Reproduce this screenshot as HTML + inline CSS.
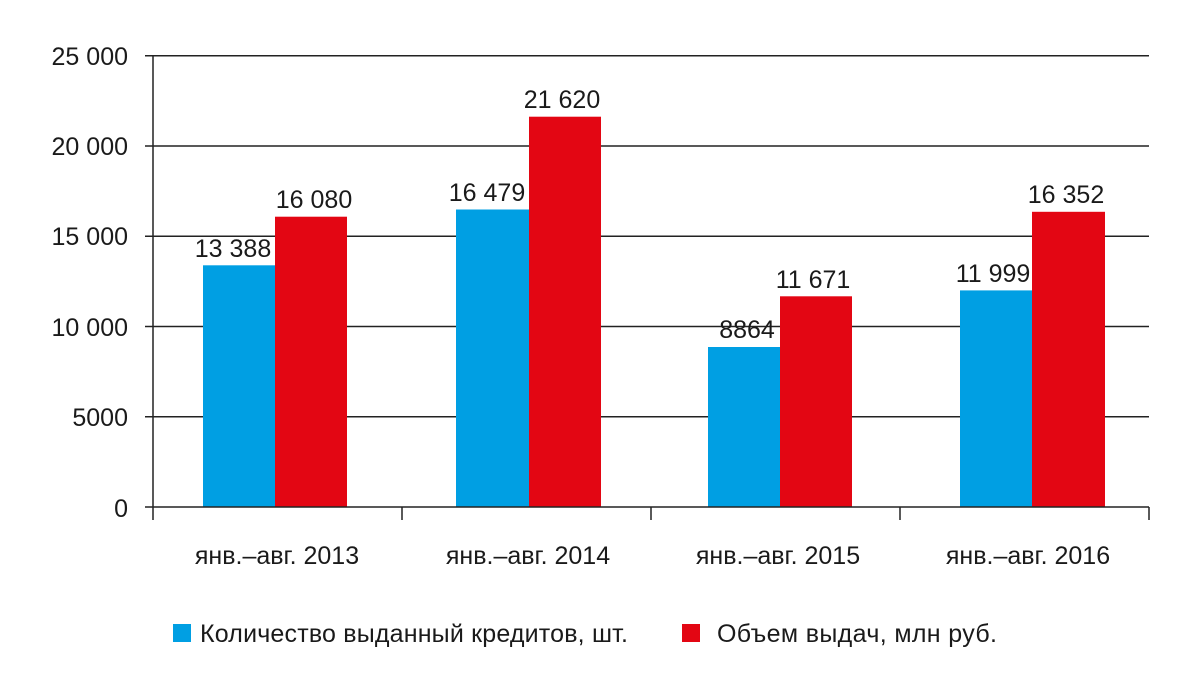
<!DOCTYPE html>
<html><head><meta charset="utf-8"><style>body{margin:0;background:#fff}</style></head><body>
<svg width="1200" height="695" viewBox="0 0 1200 695" xmlns="http://www.w3.org/2000/svg" font-family="Liberation Sans, DejaVu Sans, sans-serif" fill="#1a1a1a">
<g stroke="#222" stroke-width="1.5">
<line x1="145" y1="55.7" x2="1149" y2="55.7"/>
<line x1="145" y1="146" x2="1149" y2="146"/>
<line x1="145" y1="236.3" x2="1149" y2="236.3"/>
<line x1="145" y1="326.5" x2="1149" y2="326.5"/>
<line x1="145" y1="416.8" x2="1149" y2="416.8"/>
</g>
<g>
<rect x="203" y="265.3" width="72" height="241.7" fill="#009fe3"/>
<rect x="275" y="216.7" width="72" height="290.3" fill="#e30613"/>
<rect x="456" y="209.5" width="73" height="297.5" fill="#009fe3"/>
<rect x="529" y="116.7" width="72" height="390.3" fill="#e30613"/>
<rect x="708" y="347" width="72" height="160" fill="#009fe3"/>
<rect x="780" y="296.3" width="72" height="210.7" fill="#e30613"/>
<rect x="960" y="290.4" width="72" height="216.6" fill="#009fe3"/>
<rect x="1032" y="211.8" width="73" height="295.2" fill="#e30613"/>
</g>
<g stroke="#222" stroke-width="1.5">
<line x1="153" y1="55" x2="153" y2="520"/>
<line x1="145" y1="507" x2="1149" y2="507"/>
<line x1="402" y1="507" x2="402" y2="520"/>
<line x1="651" y1="507" x2="651" y2="520"/>
<line x1="900" y1="507" x2="900" y2="520"/>
<line x1="1149" y1="507" x2="1149" y2="520"/>
</g>
<g font-size="25" text-anchor="end">
<text x="128" y="65">25 000</text>
<text x="128" y="155">20 000</text>
<text x="128" y="245">15 000</text>
<text x="128" y="336">10 000</text>
<text x="128" y="426">5000</text>
<text x="128" y="517">0</text>
</g>
<g font-size="25" text-anchor="middle">
<text x="233" y="257">13 388</text>
<text x="314" y="208">16 080</text>
<text x="487" y="201">16 479</text>
<text x="562" y="108">21 620</text>
<text x="747" y="338">8864</text>
<text x="813" y="288">11 671</text>
<text x="993" y="282">11 999</text>
<text x="1066" y="203">16 352</text>
</g>
<g font-size="25" text-anchor="middle">
<text x="277" y="564">янв.–авг. 2013</text>
<text x="528" y="564">янв.–авг. 2014</text>
<text x="778" y="564">янв.–авг. 2015</text>
<text x="1028" y="564">янв.–авг. 2016</text>
</g>
<rect x="173" y="624" width="18" height="18" fill="#009fe3"/>
<text x="200" y="642" font-size="25" textLength="428">Количество выданный кредитов, шт.</text>
<rect x="682" y="624" width="18" height="18" fill="#e30613"/>
<text x="717" y="642" font-size="25" textLength="280">Объем выдач, млн руб.</text>
</svg>
</body></html>
